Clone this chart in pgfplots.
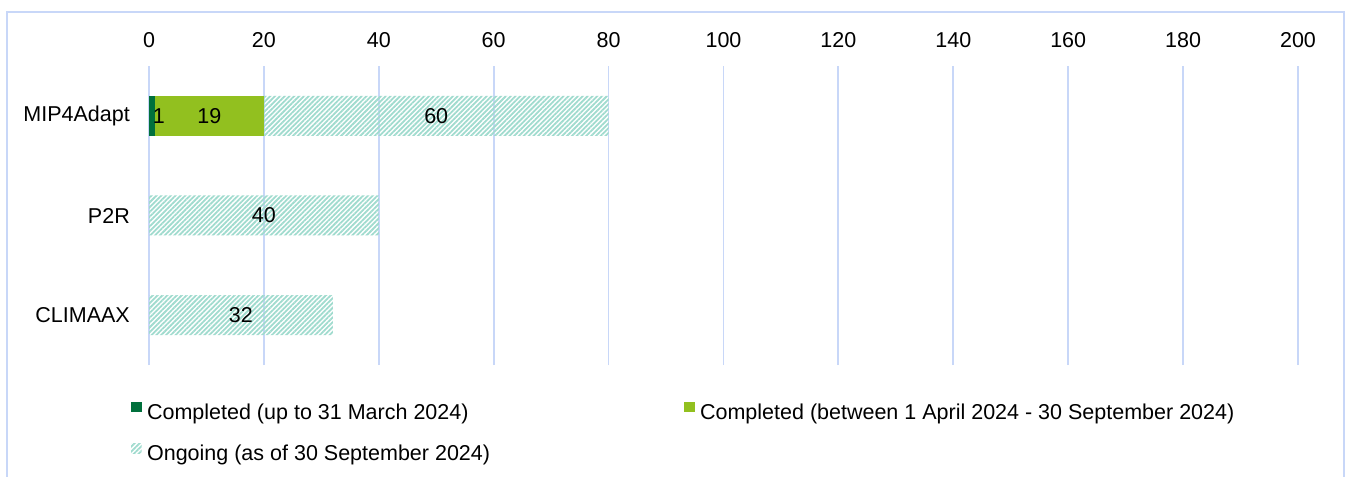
\documentclass[border=0pt]{standalone}
\usepackage{pgfplots}
\pgfplotsset{compat=1.18}
\usepackage{fontspec}
\setmainfont{Liberation Sans}
\usetikzlibrary{patterns.meta}
\definecolor{dkgreen}{HTML}{00703C}
\definecolor{ltgreen}{HTML}{92C01F}
\definecolor{hatchc}{HTML}{A0DBCE}
\definecolor{gridblue}{HTML}{C8D7F8}
\pgfplotsset{sqlegend/.style={legend image code/.code={\fill[##1,draw=none] (0bp,0.5bp) rectangle (10.5bp,11bp);}}}
\begin{document}
\fontsize{21.5bp}{25bp}\selectfont
\begin{tikzpicture}
\useasboundingbox (0,0) rectangle (1349bp,477bp);
\draw[gridblue, line width=1.8bp] (7bp,-20bp) -- (7bp,465bp) -- (1344bp,465bp) -- (1344bp,-20bp);
\begin{axis}[
  at={(149bp,112bp)}, anchor=south west,
  scale only axis, width=1149bp, height=299bp,
  xmin=0, xmax=200, ymin=-0.5, ymax=2.5,
  xbar stacked, bar width=40bp,
  axis x line*=top, axis y line*=left,
  x axis line style={draw=none},
  y axis line style={gridblue, line width=1.8bp},
  xtick={0,20,...,200}, xmajorgrids,
  grid style={gridblue, line width=1.8bp},
  xtick style={draw=none},
  xticklabel style={inner sep=0pt, anchor=south},
  xticklabel shift=18bp,
  /pgf/number format/assume math mode=true,
  ytick={0,1,2}, yticklabels={CLIMAAX,P2R,MIP4Adapt},
  ytick style={draw=none},
  yticklabel style={inner sep=0pt, anchor=east},
  yticklabel shift=19bp,
  extra y ticks={-0.5,0.5,1.5,2.5}, extra y tick labels={},
  extra y tick style={grid=none, tick align=outside, major tick length=6bp, tick style={draw=gridblue, line width=1.8bp}},
  legend columns=2,
  legend cell align=left,
  legend style={at={(rel axis cs:-0.0156,-0.1237)}, anchor=north west,
    draw=none, fill=none, inner sep=0pt, outer sep=0pt,
    nodes={inner sep=0pt},
    row sep=21bp,
    /tikz/every odd column/.style={column sep=5.5bp},
    /tikz/every even column/.style={column sep=194bp}},
]
\addplot[fill=dkgreen, draw=none, sqlegend] coordinates {(1,2) (0,1) (0,0)};
\addlegendentry{Completed (up to 31 March 2024)}
\addplot[fill=ltgreen, draw=none, sqlegend] coordinates {(19,2) (0,1) (0,0)};
\addlegendentry{Completed (between 1 April 2024 - 30 September 2024)}
\addplot[pattern={Lines[angle=45,distance=3.4bp,line width=1.8bp]}, pattern color=hatchc, draw=none, sqlegend] coordinates {(60,2) (40,1) (32,0)};
\addlegendentry{Ongoing (as of 30 September 2024)}
\end{axis}
\begin{axis}[
  at={(149bp,112bp)}, anchor=south west,
  scale only axis, width=1149bp, height=299bp,
  xmin=0, xmax=200, ymin=-0.5, ymax=2.5,
  hide axis,
]
\addplot[draw=none, mark=none, nodes near coords={\pgfplotspointmeta}, point meta=explicit symbolic,
  every node near coord/.append style={anchor=center, inner sep=0pt}] coordinates {
  (1.7,2) [1]
  (10.5,2) [19]
  (50,2) [60]
  (20,1) [40]
  (16,0) [32]
};
\end{axis}
\end{tikzpicture}
\end{document}
